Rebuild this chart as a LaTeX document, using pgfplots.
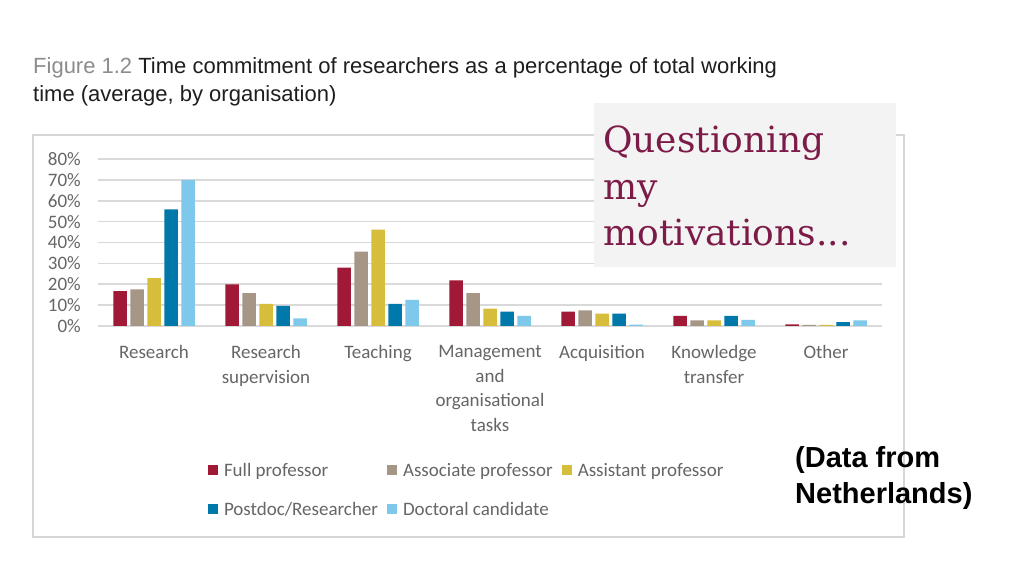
\documentclass[border=0pt]{standalone}
\usepackage{fontspec}
\setmainfont{Liberation Sans}
\newfontfamily\chartfont{Carlito}
\newfontfamily\qfont{DejaVu Serif}
\usepackage{pgfplots}
\usepackage{pgfplotstable}
\pgfplotsset{compat=1.18}
\definecolor{cRed}{HTML}{A01937}
\definecolor{cTan}{HTML}{A69686}
\definecolor{cYel}{HTML}{D6BD3C}
\definecolor{cDBlue}{HTML}{0078AA}
\definecolor{cLBlue}{HTML}{7DC8EB}
\definecolor{gridc}{HTML}{D9D9D9}
\definecolor{framec}{HTML}{D6D6D6}
\definecolor{labelgray}{HTML}{666666}
\definecolor{boxgray}{HTML}{F3F3F3}
\definecolor{qcol}{HTML}{7D1B48}
\definecolor{titlegray}{HTML}{8C8C8C}
\definecolor{titledark}{HTML}{1E1E1E}

\pgfplotstableread{
x FP AP AsP PD DC
0 16.7 17.6 22.9 55.9 70.0
1 19.9 15.7 10.6 9.6 3.7
2 28.0 35.6 46.2 10.6 12.5
3 21.8 15.7 8.3 6.9 4.8
4 6.9 7.5 5.9 5.9 0.6
5 4.8 2.7 2.7 4.8 2.9
6 0.8 0.5 0.5 1.9 2.7
}\datatable

\begin{document}
\begin{tikzpicture}[x=1pt,y=1pt]
\fill[white] (0,0) rectangle (1024,575);
\useasboundingbox (0,0) rectangle (1024,575);
\draw[color=framec, line width=1.5pt] (33,38) rectangle (904,440);
\begin{axis}[
  at={(98pt,249pt)}, anchor=south west,
  scale only axis, width=784pt, height=167pt,
  ybar=3.5pt, bar width=13.5pt,
  xmin=-0.5, xmax=6.5, ymin=0, ymax=80,
  ytick={0,10,...,80},
  yticklabel={\pgfmathprintnumber{\tick}\%},
  /pgf/number format/assume math mode=true,
  xtick={0,...,6},
  xticklabels={Research,{Research\\supervision},Teaching,{Management\\and\\organisational\\tasks},Acquisition,{Knowledge\\transfer},Other},
  major tick length=0pt,
  axis line style={draw=none},
  ymajorgrids,
  major grid style={draw=gridc, line width=1.5pt},
  yticklabel style={font=\chartfont\fontsize{19}{22}\selectfont, text=labelgray, inner sep=0pt, anchor=east, xshift=-17pt},
  xticklabel style={font=\chartfont\fontsize{19}{24.7}\selectfont, text=labelgray, inner sep=0pt, anchor=north, align=center, yshift=-19pt},
  legend columns=3,
  legend cell align=left,
  legend style={at={(axis description cs:0.1403,-0.820)}, anchor=north west, draw=none, fill=none, inner sep=0pt, outer sep=0pt,
    font=\chartfont\fontsize{19}{23}\selectfont, text=labelgray, row sep=25pt, nodes={inner sep=0pt},
    /tikz/every odd column/.append style={column sep=6pt},
    /tikz/every even column/.append style={column sep=9pt}},
  legend image code/.code={\fill[#1] (0pt,-4.5pt) rectangle (10pt,5.5pt);},
  clip=false,
]
\addplot[fill=cRed, draw=none] table[x=x, y=FP] {\datatable};
\addlegendentry{Full professor}
\addplot[fill=cTan, draw=none] table[x=x, y=AP] {\datatable};
\addlegendentry{Associate professor}
\addplot[fill=cYel, draw=none] table[x=x, y=AsP] {\datatable};
\addlegendentry{Assistant professor}
\addplot[fill=cDBlue, draw=none] table[x=x, y=PD] {\datatable};
\addlegendentry{Postdoc/Researcher}
\addplot[fill=cLBlue, draw=none] table[x=x, y=DC] {\datatable};
\addlegendentry{Doctoral candidate}
\end{axis}
\fill[boxgray] (594,308) rectangle (896,472);
\begin{scope}[every node/.style={anchor=base west, inner sep=0pt, text=qcol, font=\qfont\fontsize{36}{46}\selectfont}]
\node at (603,422) {Questioning};
\node at (603,375.5) {my};
\node at (603,329) {motivations...};
\end{scope}
\begin{scope}[every node/.style={anchor=base west, inner sep=0pt, text=titledark, font=\fontsize{22}{28}\selectfont}]
\node at (33,501) {{\color{titlegray}Figure 1.2} Time commitment of researchers as a percentage of total working};
\node at (33,473) {time (average, by organisation)};
\end{scope}
\begin{scope}[every node/.style={anchor=base west, inner sep=0pt, text=black, font=\bfseries\fontsize{29}{36}\selectfont}]
\node at (795,107) {(Data from};
\node at (795,71) {Netherlands)};
\end{scope}
\end{tikzpicture}
\end{document}
